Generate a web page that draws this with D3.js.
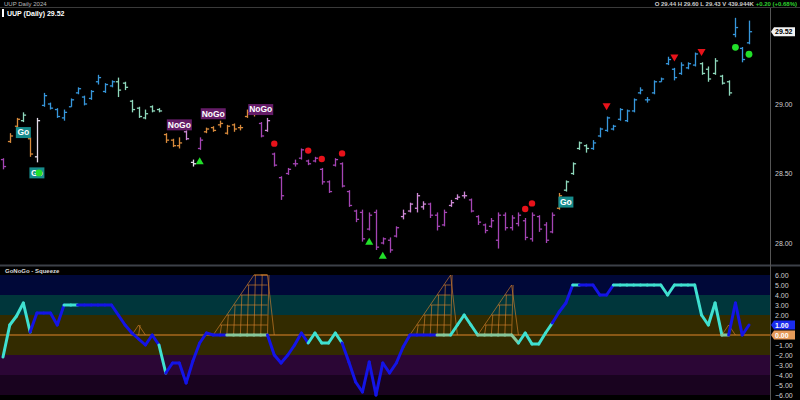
<!DOCTYPE html>
<html><head><meta charset="utf-8">
<script src="https://cdn.jsdelivr.net/npm/d3@7"></script>
<style>html,body{margin:0;padding:0;background:#000;} svg{display:block;font-family:"Liberation Sans",Arial,sans-serif;}</style>
</head><body><svg id="c" width="800" height="400"></svg>
<script>
// ---------- DATA ----------
const opens=[28.60,28.73,28.84,28.88,28.75,28.62,28.99,29.00,28.96,28.90,
28.98,29.08,29.05,29.04,29.16,29.09,29.13,29.16,29.15,29.02,
28.97,28.90,28.98,28.96,28.78,28.74,28.70,28.80,28.58,28.68,
28.80,28.83,28.85,28.79,28.85,28.83,28.91,28.93,28.86,28.81,
28.64,28.47,28.50,28.57,28.61,28.59,28.59,28.53,28.44,28.56,
28.57,28.37,28.23,28.22,28.10,28.22,28.00,28.02,28.05,28.19,
28.23,28.25,28.26,28.28,28.20,28.13,28.27,28.32,28.34,28.31,
28.19,28.13,28.12,28.02,28.20,28.11,28.14,28.16,28.03,28.19,
28.13,28.08,28.25,28.38,28.50,28.68,28.70,28.68,28.77,28.81,
28.82,28.89,28.88,28.95,29.08,29.03,29.08,29.16,29.29,29.25,
29.22,29.26,29.28,29.29,29.25,29.22,29.20,29.16,29.50,29.40,29.44];
const highs=[28.61,28.79,28.90,28.94,28.76,28.90,29.08,29.01,28.97,28.96,
29.04,29.12,29.06,29.10,29.21,29.15,29.17,29.19,29.16,29.03,
28.98,28.96,28.99,28.97,28.79,28.75,28.76,28.81,28.60,28.76,
28.83,28.84,28.88,28.85,28.86,28.85,28.96,28.97,28.87,28.90,
28.65,28.48,28.54,28.60,28.68,28.60,28.62,28.54,28.45,28.61,
28.58,28.38,28.24,28.24,28.22,28.24,28.04,28.04,28.12,28.24,
28.29,28.36,28.30,28.29,28.22,28.24,28.31,28.35,28.37,28.32,
28.20,28.14,28.18,28.22,28.22,28.20,28.22,28.18,28.22,28.20,
28.15,28.22,28.36,28.45,28.58,28.73,28.71,28.74,28.83,28.91,
28.85,28.97,28.96,29.04,29.12,29.05,29.17,29.19,29.34,29.26,
29.30,29.30,29.37,29.30,29.27,29.33,29.21,29.17,29.62,29.41,29.60];
const lows=[28.53,28.72,28.83,28.87,28.62,28.58,28.98,28.96,28.90,28.88,
28.98,29.07,28.99,29.03,29.14,29.08,29.12,29.05,29.10,28.94,
28.90,28.89,28.94,28.94,28.72,28.69,28.68,28.74,28.55,28.67,
28.79,28.80,28.83,28.78,28.80,28.81,28.90,28.91,28.76,28.80,
28.55,28.31,28.49,28.55,28.60,28.56,28.58,28.42,28.36,28.55,
28.40,28.26,28.15,28.01,28.09,27.95,27.99,27.93,28.04,28.17,
28.22,28.22,28.24,28.18,28.09,28.12,28.26,28.31,28.32,28.22,
28.13,28.07,28.11,27.96,28.09,28.09,28.12,28.02,28.01,28.08,
28.00,28.07,28.24,28.37,28.49,28.67,28.65,28.67,28.76,28.80,
28.81,28.88,28.87,28.94,29.07,29.01,29.07,29.16,29.28,29.17,
29.21,29.25,29.27,29.21,29.16,29.21,29.14,29.06,29.48,29.30,29.43];
const closes=[28.55,28.77,28.89,28.92,28.64,28.88,29.06,28.97,28.91,28.94,
29.03,29.11,29.00,29.09,29.19,29.14,29.16,29.10,29.12,28.96,
28.91,28.93,28.95,28.95,28.74,28.70,28.72,28.75,28.57,28.74,
28.82,28.81,28.86,28.84,28.82,28.83,28.94,28.95,28.77,28.88,
28.56,28.34,28.53,28.57,28.67,28.57,28.61,28.44,28.37,28.60,
28.41,28.27,28.17,28.03,28.20,27.97,28.03,27.95,28.11,28.21,
28.28,28.34,28.28,28.20,28.12,28.22,28.29,28.33,28.34,28.23,
28.15,28.09,28.16,28.20,28.11,28.18,28.20,28.04,28.20,28.10,
28.02,28.20,28.34,28.44,28.57,28.72,28.68,28.72,28.82,28.90,
28.84,28.96,28.95,29.03,29.10,29.03,29.16,29.18,29.32,29.19,
29.28,29.29,29.36,29.22,29.18,29.31,29.15,29.08,29.55,29.32,29.52];
// GoNoGo bar regime: G strong go, g weak go, a amber, n weak nogo, N strong nogo, w pale
const regimes=("N"+"aa"+"g"+"a"+"w"+"GGGGGGGGGGG"+"ggggggg"+"aaa"+"n"+"w"+"N"+"aaaaaaaa"+"N"+"n"+
 "NNNNNNNNNNNNNNNNNNN"+"nnnn"+"NNN"+"nnn"+"NNNNNNNNNNNNN"+"a"+"gggg"+"GGGGGGGGGGGGGGGG"+"ggggg"+"GGG").split("");
// oscillator
const osc=[-2.2,1.0,1.9,3.2,0.3,2.2,2.2,2.2,1.0,3.0,
3.0,3.0,3.0,3.0,3.0,3.0,3.0,2.0,1.0,0.2,
-0.4,-1.0,0.0,-1.0,-3.8,-2.8,-2.8,-4.8,-2.6,-0.8,
0.2,0,0,0,0,0,0,0,0,0,
-2.0,-2.8,-2.0,-1.0,0.2,-0.8,0.2,-0.8,-0.8,0.2,
-0.8,-2.7,-4.7,-5.7,-2.7,-6.0,-2.8,-3.8,-2.8,-1.2,
0,0,0,0,0,0,0,1.0,2.0,1.0,
0,0,0,0,0,0,-0.8,0.2,-0.9,-0.9,
0.2,1.2,2.3,3.2,5.0,5.0,5.0,5.0,4.0,4.0,
5.0,5.0,5.0,5.0,5.0,5.0,5.0,5.0,4.0,5.0,
5.0,5.0,5.0,2.0,1.0,3.2,0,0,3.2,0,1.0];
const oscState=("CCCC"+"BBBBB"+"CC"+"BBBBBBBBBBBB"+"C"+"BBBBBBBBB"+"SSSSSS"+"BBBBBB"+"CCCCC"+
 "BBBBBBBBBBBBBB"+"SS"+"CCCC"+"SSSSSS"+"CCCCC"+"BBB"+"C"+"BBBBB"+"CCCCCCCCCCCCCCCC"+"S"+"BBBB").split("");
const squeeze=new Array(111).fill(0);
[[20,1],[32,1],[33,2],[34,3],[35,4],[36,5],[37,6],[38,6],[39,6],
 [61,1],[62,2],[63,3],[64,4],[65,5],[66,6],[71,1],[72,2],[73,3],[74,4],[75,5],[107,1]].forEach(([i,v])=>squeeze[i]=v);
const redDots=[40,45,47,50,77,78];
const redTriangles=[89,99,103];
const greenTriangles=[29,54,56];
const greenDots=[5,108,110];
const goLabels=[3,5,83];
const noGoLabels=[26,31,38];
const priceTicks=[28.00,28.50,29.00];
const oscTicks=[6,5,4,3,2,-1,-2,-3,-4,-5,-6];
const lastPrice=29.52, lastOsc=1.0;

// ---------- DRAW ----------
const svg=d3.select('#c');
const AX=770;
svg.append('rect').attr('width',800).attr('height',400).attr('fill','#000');
const x=d3.scaleLinear().domain([0,110]).range([3,749]);
const yP=d3.scaleLinear().domain([28,29]).range([243,104]);
const yO=d3.scaleLinear().domain([-6,6]).range([395,275]);
const regimeColor={G:'#3797dc',g:'#8fd9bd',a:'#d98b3c',n:'#d08ad8',N:'#a545b5',w:'#e4dcea'};
const oscColor={C:'#3fe0d0',B:'#1414e6',S:'#86c79a'};

// lower bands
const bands=[[6,4,'#000838'],[4,2,'#00363b'],[2,-2,'#332b00'],[-2,-4,'#2b0635'],[-4,-6,'#19031f']];
svg.selectAll('rect.band').data(bands).enter().append('rect').attr('class','band')
 .attr('x',0).attr('width',AX).attr('y',d=>yO(d[0])).attr('height',d=>yO(d[1])-yO(d[0])).attr('fill',d=>d[2]);

// separators
svg.append('line').attr('x1',0).attr('x2',800).attr('y1',7.5).attr('y2',7.5).attr('stroke','#3a3a3a');
svg.append('rect').attr('x',0).attr('y',264.5).attr('width',800).attr('height',2).attr('fill','#3c4048');
svg.append('line').attr('x1',AX+0.5).attr('x2',AX+0.5).attr('y1',8).attr('y2',400).attr('stroke','#555');

// OHLC bars
const g=svg.append('g');
d3.range(highs.length).forEach(i=>{
  const c=regimeColor[regimes[i]], xi=Math.round(x(i))+0.5;
  g.append('line').attr('x1',xi).attr('x2',xi).attr('y1',yP(highs[i])).attr('y2',yP(lows[i])).attr('stroke',c).attr('stroke-width',1.3);
  g.append('line').attr('x1',xi-2.6).attr('x2',xi).attr('y1',yP(opens[i])).attr('y2',yP(opens[i])).attr('stroke',c).attr('stroke-width',1.3);
  g.append('line').attr('x1',xi).attr('x2',xi+2.6).attr('y1',yP(closes[i])).attr('y2',yP(closes[i])).attr('stroke',c).attr('stroke-width',1.3);
});

// markers
redDots.forEach(i=>svg.append('circle').attr('cx',x(i)).attr('cy',yP(highs[i])-9).attr('r',3.2).attr('fill','#e8121a'));
greenDots.forEach(i=>svg.append('circle').attr('cx',x(i)).attr('cy',yP(lows[i])+10).attr('r',3.4).attr('fill','#22e02a'));
const tri=d3.symbol().type(d3.symbolTriangle).size(28);
redTriangles.forEach(i=>svg.append('path').attr('d',tri).attr('fill','#e8121a')
  .attr('transform',`translate(${x(i)},${yP(highs[i])-11}) rotate(180)`));
greenTriangles.forEach(i=>svg.append('path').attr('d',tri).attr('fill','#22e02a')
  .attr('transform',`translate(${x(i)},${yP(lows[i])+12})`));

function label(i,txt,top,bg){
  const w=txt.length>2?25:15,h=11;
  const cx=x(i);
  const y0=top?yP(highs[i])-7-h:yP(lows[i])+5;
  svg.append('rect').attr('x',cx-w/2).attr('y',y0).attr('width',w).attr('height',h).attr('fill',bg);
  svg.append('text').attr('x',cx).attr('y',y0+8.3).attr('text-anchor','middle').attr('fill','#fff')
    .attr('font-size',8.5).attr('font-weight','bold').text(txt);
}
goLabels.forEach(i=>label(i,'Go',false,'#178c8c'));
noGoLabels.forEach(i=>label(i,'NoGo',true,'#651c68'));
// green dot sits over the 2nd Go label
svg.append('circle').attr('cx',x(5)+2).attr('cy',yP(lows[5])+10.5).attr('r',3.4).attr('fill','#22e02a');

// zero line
svg.append('line').attr('x1',0).attr('x2',AX).attr('y1',yO(0)).attr('y2',yO(0)).attr('stroke','#e2862a').attr('stroke-width',1);

// squeeze ladders
const sq=svg.append('g').attr('stroke','#d9822b').attr('stroke-width',0.7).attr('stroke-opacity',0.9).attr('fill','none');
let i=0;
while(i<squeeze.length){
  if(squeeze[i]>0){
    let s=i; while(i<squeeze.length&&squeeze[i]>0) i++; const e=i-1;
    const pts=[[x(s-1),yO(0)]];
    for(let j=s;j<=e;j++){
      pts.push([x(j),yO(squeeze[j])]);
      sq.append('line').attr('x1',x(j)).attr('x2',x(j)+1.5).attr('y1',yO(0)).attr('y2',yO(squeeze[j]));
      sq.append('line').attr('x1',x(j)).attr('x2',x(e)).attr('y1',yO(squeeze[j])).attr('y2',yO(squeeze[j]));
    }
    pts.push([x(e+1),yO(0)]);
    sq.append('path').attr('d',d3.line()(pts));
  } else i++;
}

// oscillator line
const og=svg.append('g');
for(let k=0;k<osc.length-1;k++){
  og.append('line').attr('x1',x(k)).attr('x2',x(k+1)).attr('y1',yO(osc[k])).attr('y2',yO(osc[k+1]))
   .attr('stroke',oscColor[oscState[k]]).attr('stroke-width',3).attr('stroke-linecap','round');
}

// axes
const axP=svg.append('g').attr('transform',`translate(${AX},0)`)
 .call(d3.axisRight(yP).tickValues(priceTicks).tickFormat(d3.format('.2f')).tickSize(0).tickPadding(5));
const axO=svg.append('g').attr('transform',`translate(${AX},0)`)
 .call(d3.axisRight(yO).tickValues(oscTicks).tickFormat(d3.format('.2f')).tickSize(0).tickPadding(5));
[axP,axO].forEach(a=>{a.select('.domain').remove();a.selectAll('text').attr('fill','#cfcfcf').attr('font-size',7).attr('font-family','Liberation Sans, Arial');});

function badge(yv,txt,bg,fg){
  svg.append('path').attr('d',`M${AX+1},${yv} L${AX+4},${yv-4.5} L${AX+25},${yv-4.5} L${AX+25},${yv+4.5} L${AX+4},${yv+4.5} Z`).attr('fill',bg);
  svg.append('text').attr('x',AX+5).attr('y',yv+2.6).attr('fill',fg).attr('font-size',7).attr('font-weight','bold').text(txt);
}
badge(yP(lastPrice),d3.format('.2f')(lastPrice),'#f2f2f2','#000');
badge(yO(lastOsc),d3.format('.2f')(lastOsc),'#1a2cf0','#fff');
badge(yO(0),'0.00','#e59a5a','#fff');

// header texts
svg.append('text').attr('x',4).attr('y',5.5).attr('fill','#bbb').attr('font-size',6).text('UUP Daily 2024');
svg.append('rect').attr('x',2).attr('y',9).attr('width',2).attr('height',8).attr('fill','#fff');
svg.append('text').attr('x',7).attr('y',16).attr('fill','#fff').attr('font-size',7).attr('font-weight','bold').text('UUP (Daily) 29.52');
const hdr=svg.append('text').attr('x',797).attr('y',5.5).attr('text-anchor','end').attr('font-size',6).attr('font-weight','bold');
hdr.append('tspan').attr('fill','#ccc').text('O  29.44   H  29.60   L  29.43   V  439.944K  ');
hdr.append('tspan').attr('fill','#2ed12e').text('+0.20 (+0.68%)');
svg.append('text').attr('x',5).attr('y',273).attr('fill','#ddd').attr('font-size',6).attr('font-weight','bold').text('GoNoGo - Squeeze');
</script></body></html>
